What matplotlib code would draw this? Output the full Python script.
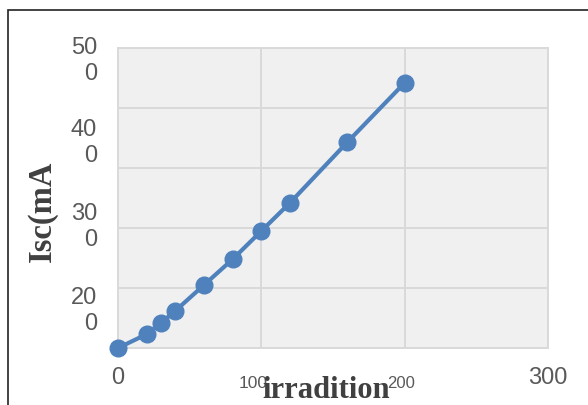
import matplotlib
matplotlib.use("Agg")
import matplotlib.pyplot as plt
from matplotlib.patches import Rectangle

# data
irradiation = [0, 20, 30, 40, 60, 80, 100, 120, 160, 200]
isc = [0, 23, 42, 62, 105, 148, 195, 242, 343, 442]

x_ticks = [0, 100, 200, 300]
y_ticks = [0, 100, 200, 300, 400, 500]

# the tick labels in the source are wrapped / shifted, so they are drawn as text
y_tick_text = ["50\n0", "40\n0", "30\n0", "20\n0"]
x_tick_text = ["0", "100", "200", "300"]

W, H = 588, 405


def fx(px):
    return px / W


def fy(py):
    return 1 - py / H


fig = plt.figure(figsize=(5.88, 4.05), dpi=100)
ax = fig.add_axes([fx(118), fy(348), fx(548) - fx(118), fy(48) - fy(348)])

ax.set_facecolor("#f0f0f0")
ax.plot(irradiation, isc, color="#4f81bd", lw=3, marker="o", ms=12,
        solid_capstyle="round", zorder=3, clip_on=False)

ax.set_xlim(0, 300)
ax.set_ylim(0, 500)
ax.set_xticks(x_ticks)
ax.set_yticks(y_ticks)
ax.set_xticklabels([])
ax.set_yticklabels([])
ax.tick_params(length=0)
ax.grid(True, color="#d9d9d9", lw=1.4)
ax.set_axisbelow(True)
for s in ax.spines.values():
    s.set_color("#d9d9d9")
    s.set_linewidth(1.4)

# outer chart frame (cut off on right and bottom in the source)
fig.patches.append(Rectangle((fx(8), fy(430)), 1.2, fy(10) - fy(430),
                             transform=fig.transFigure, fill=False,
                             edgecolor="#222222", lw=1.2))

tick_font = dict(family="Liberation Sans", color="#595959")

# y tick labels
for txt, py in zip(y_tick_text, [61, 143, 227, 311]):
    fig.text(fx(97), fy(py), txt, ha="right", va="center", fontsize=17,
             linespacing=1.25, **tick_font)

# x tick labels
fig.text(fx(118), fy(378), x_tick_text[0], ha="center", va="center",
         fontsize=17, **tick_font)
fig.text(fx(253), fy(383), x_tick_text[1], ha="center", va="center",
         fontsize=12.5, **tick_font)
fig.text(fx(401), fy(383), x_tick_text[2], ha="center", va="center",
         fontsize=12, **tick_font)
fig.text(fx(548), fy(378), x_tick_text[3], ha="center", va="center",
         fontsize=17, **tick_font)

title_font = dict(family="Liberation Serif", weight="bold", color="#404040")
fig.text(fx(326), fy(390), "irradition", ha="center", va="center",
         fontsize=22, **title_font)
fig.text(fx(42), fy(211), "Isc(mA", ha="center", va="center",
         rotation=90, fontsize=23.5, **title_font)

fig.savefig("out.png", dpi=100)
